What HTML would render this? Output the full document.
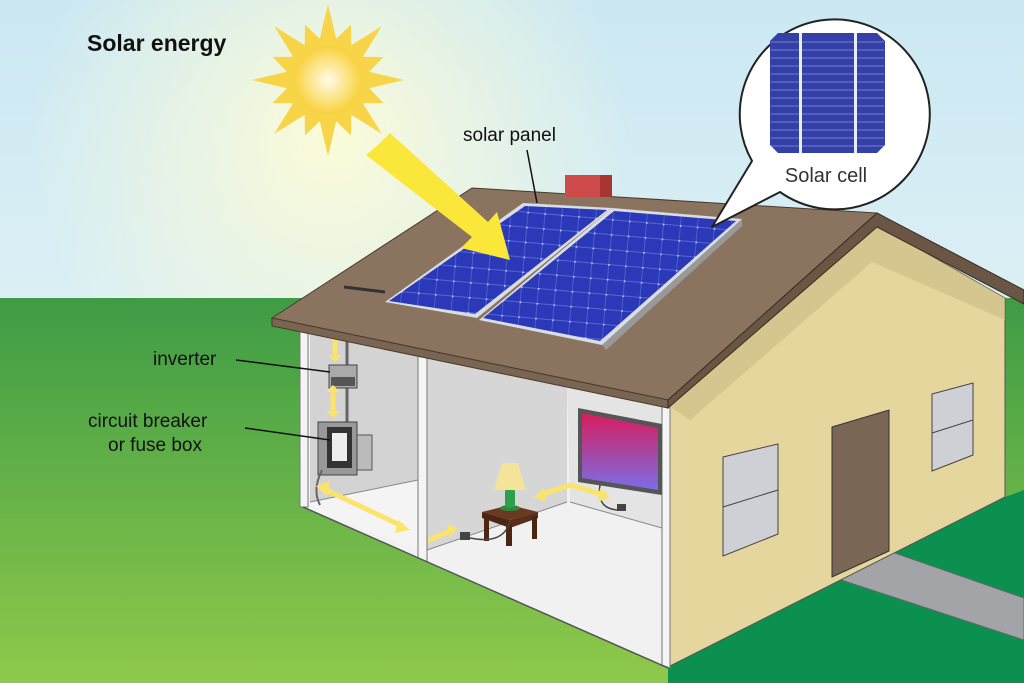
<!DOCTYPE html>
<html><head><meta charset="utf-8"><style>
html,body{margin:0;padding:0;width:1024px;height:683px;overflow:hidden}
text{font-family:"Liberation Sans",sans-serif}
</style></head><body>
<svg id="s" width="1024" height="683" viewBox="0 0 1024 683" xmlns="http://www.w3.org/2000/svg">
<defs>
<linearGradient id="sky" x1="0" y1="0" x2="0" y2="1"><stop offset="0" stop-color="#cbe8f3"/><stop offset="1" stop-color="#f0f9f6"/></linearGradient>
<radialGradient id="glow" cx="330" cy="140" r="300" gradientUnits="userSpaceOnUse"><stop offset="0" stop-color="#fbfbd8"/><stop offset="1" stop-color="#fbfbd8" stop-opacity="0"/></radialGradient>
<linearGradient id="grass" x1="0" y1="0" x2="0" y2="1"><stop offset="0" stop-color="#3e9c45"/><stop offset="1" stop-color="#8fc94b"/></linearGradient>
<radialGradient id="sun" cx="0.5" cy="0.5" r="0.5"><stop offset="0" stop-color="#fffbe8"/><stop offset="1" stop-color="#f8d23c"/></radialGradient>
<linearGradient id="tv" x1="0" y1="0" x2="0" y2="1"><stop offset="0" stop-color="#d81c5c"/><stop offset="1" stop-color="#7a6ee6"/></linearGradient>
<pattern id="cells" width="17" height="15" patternUnits="userSpaceOnUse" patternTransform="rotate(5)">
<rect width="17" height="15" fill="#2b39b8"/><rect x="0" y="0" width="17" height="1" fill="#5466d4"/><rect x="0" y="0" width="1" height="15" fill="#4a5cd0"/><circle cx="0.5" cy="0.5" r="1.2" fill="#c8d2ff"/></pattern>
</defs>
<rect width="1024" height="683" fill="url(#sky)"/>
<rect width="1024" height="300" fill="url(#glow)"/>
<rect y="298" width="1024" height="385" fill="url(#grass)"/>
<polygon points="668,667 1005,497 1024,490 1024,683 668,683" fill="#0b904f"/>
<polygon points="832,577 889,551 1024,598 1024,640" fill="#a3a4a8" stroke="#666" stroke-width="1"/>
<polygon id="rays" fill="#f8d449"/>
<circle cx="328" cy="80" r="34" fill="url(#sun)"/>
<text x="87" y="51" font-size="23" font-weight="bold" fill="#111">Solar energy</text>
<polygon points="668,405 877,225 1005,298 1005,497 668,667" fill="#e4d69c" stroke="#555" stroke-width="1"/>
<polygon points="668,405 877,225 1005,298 1005,320 872,262 690,420" fill="#c9bb85" opacity="0.6"/>
<polygon points="723,457 778,444 778,534 723,556" fill="#cfd0d6" stroke="#444"/>
<line x1="723" y1="507" x2="778" y2="490" stroke="#444"/>
<polygon points="932,394 973,383 973,455 932,471" fill="#cfd0d6" stroke="#444"/>
<line x1="932" y1="433" x2="973" y2="420" stroke="#444"/>
<polygon points="832,427 889,410 889,551 832,577" fill="#7a6655" stroke="#333"/>
<polygon points="303,322 668,405 668,667 423,560 303,507" fill="#f1f1f1"/>
<polygon points="310,325 418,350 418,480 310,502" fill="#d3d3d3"/>
<polygon points="427,352 567,383 567,502 427,550" fill="#d6d6d6"/>
<polygon points="567,383 662,405 662,528 570,502" fill="#e4e4e4"/>
<polygon points="310,502 418,480 418,550 310,510" fill="#f4f4f4"/>
<line x1="310" y1="502" x2="418" y2="480" stroke="#888"/>
<line x1="427" y1="550" x2="567" y2="502" stroke="#888"/>
<line x1="570" y1="502" x2="662" y2="528" stroke="#888"/>
<rect x="300" y="322" width="8" height="185" fill="#f4f4f4" stroke="#777" stroke-width="1"/>
<polygon points="418,345 427,347 427,562 418,558" fill="#f4f4f4" stroke="#777" stroke-width="1"/>
<polygon points="662,405 670,407 670,668 662,665" fill="#f4f4f4" stroke="#777" stroke-width="1"/>
<polyline points="303,507 423,560 668,668" fill="none" stroke="#555" stroke-width="1.5"/>
<line x1="347" y1="322" x2="347" y2="422" stroke="#666" stroke-width="3"/>
<rect x="329" y="365" width="28" height="23" fill="#aaa" stroke="#444"/>
<rect x="331" y="377" width="24" height="9" fill="#555"/>
<rect x="357" y="435" width="15" height="35" fill="#bbb" stroke="#555"/>
<rect x="318" y="422" width="39" height="53" fill="#999" stroke="#444"/>
<rect x="327" y="427" width="25" height="41" fill="#333"/>
<rect x="332" y="433" width="15" height="28" fill="#eee"/>
<path d="M322,470 Q312,490 320,505" fill="none" stroke="#666" stroke-width="2"/>
<polygon points="578,408 662,424 662,495 578,482" fill="#555"/>
<polygon points="582,413 658,428 658,490 582,478" fill="url(#tv)"/>
<path d="M600,485 Q596,510 620,510" fill="none" stroke="#444" stroke-width="1.5"/>
<rect x="617" y="504" width="9" height="7" fill="#444"/>
<polygon points="482,512 510,505 538,512 510,520" fill="#6a3a20"/>
<polygon points="482,512 510,520 510,528 482,518" fill="#4d2612"/>
<polygon points="510,520 538,512 538,518 510,528" fill="#5a2e18"/>
<rect x="484" y="516" width="5" height="25" fill="#4d2612"/><rect x="506" y="524" width="6" height="22" fill="#4d2612"/><rect x="532" y="516" width="5" height="23" fill="#4d2612"/>
<ellipse cx="510" cy="508" rx="10" ry="3" fill="#2d8a3a"/>
<rect x="505" y="488" width="10" height="20" rx="4" fill="#2fa04a"/>
<polygon points="502,463 518,463 526,490 494,490" fill="#f5e39a"/>
<path d="M510,520 Q505,545 470,538" fill="none" stroke="#444" stroke-width="1.5"/>
<rect x="460" y="532" width="10" height="8" fill="#444"/>
<g fill="none" stroke="#fbe46a" stroke-width="5" stroke-linecap="round">
<line x1="335" y1="339" x2="335" y2="353"/><line x1="333" y1="394" x2="333" y2="409"/>
<line x1="324" y1="489" x2="402" y2="526"/>
<line x1="430" y1="540" x2="450" y2="531"/>
<polyline points="540,495 570,485 604,495"/>
<line x1="405" y1="285" x2="370" y2="279"/>
</g>
<g fill="#fbe46a">
<polygon points="328,337 342,337 335,330"/><polygon points="328,355 342,355 335,362"/>
<polygon points="326,392 340,392 333,385"/><polygon points="326,411 340,411 333,418"/>
<polygon points="316,486 330,481 327,496"/><polygon points="398,520 410,530 395,533"/>
<polygon points="447,525 458,528 450,537"/>
<polygon points="544,488 534,497 546,502"/><polygon points="600,488 610,497 598,502"/>
<polygon points="372,272 362,278 371,286"/>
</g>
<polygon points="272,318 472,188 877,213 668,400" fill="#8a7460" stroke="#4a3a2c" stroke-width="1"/>
<polygon points="272,318 668,400 668,408 272,326" fill="#7a6552" stroke="#4a3a2c" stroke-width="1"/>
<polygon points="877,213 1024,290 1024,304 877,227 668,408 668,400" fill="#6b5646" stroke="#3a2c20" stroke-width="1"/>
<rect x="565" y="175" width="47" height="22" fill="#cf4b4b"/><rect x="600" y="175" width="12" height="22" fill="#a83434"/>
<line x1="344" y1="287" x2="385" y2="292" stroke="#333" stroke-width="3"/>
<polygon points="385,302 523,203 612,208 477,318" fill="#d9dde4"/>
<polygon points="389,301 525,206 607,210 475,314" fill="url(#cells)"/>
<polygon points="479,320 612,208 742,219 602,345" fill="#d9dde4"/>
<polygon points="483,318 614,211 736,221 600,341" fill="url(#cells)"/>
<polygon points="602,345 742,219 742,226 606,350" fill="#999"/>
<polygon points="378,145 390,133 488,222 497,212 510,260 461,248 472,237 366,155" fill="#fbe63a"/>
<text x="463" y="141" font-size="19" fill="#111">solar panel</text>
<line x1="527" y1="150" x2="537" y2="203" stroke="#111" stroke-width="1.5"/>
<text x="153" y="365" font-size="19" fill="#111">inverter</text>
<line x1="236" y1="360" x2="330" y2="372" stroke="#111" stroke-width="1.5"/>
<text x="88" y="427" font-size="19" fill="#111">circuit breaker</text>
<text x="108" y="451" font-size="19" fill="#111">or fuse box</text>
<line x1="245" y1="428" x2="330" y2="440" stroke="#111" stroke-width="1.5"/>
<path d="M752,161 A95,95 0 1 1 780,192 L712,227 Z" fill="#fff" stroke="#222" stroke-width="2" stroke-linejoin="round"/>
<polygon points="778,33 877,33 885,41 885,145 877,153 778,153 770,145 770,41" fill="#3440a8"/>
<g stroke="#8c96d8" stroke-width="0.8">
<line x1="771" y1="42" x2="884" y2="42"/><line x1="771" y1="50" x2="884" y2="50"/><line x1="771" y1="58" x2="884" y2="58"/><line x1="771" y1="66" x2="884" y2="66"/><line x1="771" y1="74" x2="884" y2="74"/><line x1="771" y1="82" x2="884" y2="82"/><line x1="771" y1="90" x2="884" y2="90"/><line x1="771" y1="98" x2="884" y2="98"/><line x1="771" y1="106" x2="884" y2="106"/><line x1="771" y1="114" x2="884" y2="114"/><line x1="771" y1="122" x2="884" y2="122"/><line x1="771" y1="130" x2="884" y2="130"/><line x1="771" y1="138" x2="884" y2="138"/><line x1="771" y1="146" x2="884" y2="146"/>
</g>
<rect x="799" y="33" width="3" height="120" fill="#e8ecff"/><rect x="854" y="33" width="3" height="120" fill="#e8ecff"/>
<text x="826" y="182" font-size="20" fill="#333" text-anchor="middle">Solar cell</text>
</svg>
<script>
var p=[],cx=328,cy=80;
for(var k=0;k<32;k++){var a=(k*11.25-90)*Math.PI/180;var r=k%2?42:((k/2)%2?60:76);p.push((cx+r*Math.cos(a)).toFixed(1)+","+(cy+r*Math.sin(a)).toFixed(1));}
document.getElementById("rays").setAttribute("points",p.join(" "));
</script>
</body></html>
